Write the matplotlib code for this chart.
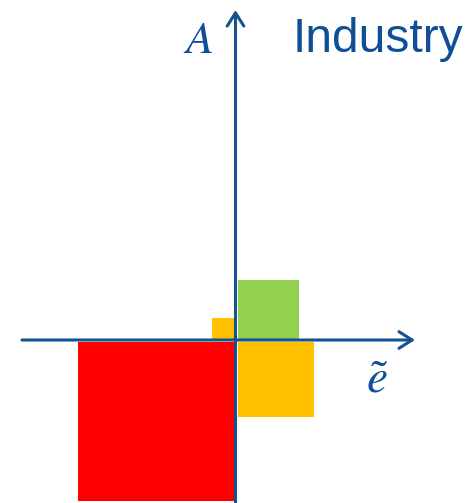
import matplotlib
matplotlib.use("Agg")
import matplotlib.pyplot as plt

# blocks around the origin (axis crossing), one unit = one pixel of the original
BLOCK_NAMES = ["red", "small yellow", "green", "yellow"]
BLOCK_LEFT = [-157.5, -23.5, 2.2, 2.2]
BLOCK_WIDTH = [157.0, 23.5, 61.3, 76.3]
BLOCK_BOTTOM = [-161.0, 0.0, 0.0, -76.7]
BLOCK_HEIGHT = [159.0, 22.3, 60.0, 74.7]
BLOCK_COLORS = ["#FF0000", "#FFC000", "#92D050", "#FFC000"]

TITLE = "Industry"
X_LABEL = r"$\tilde{e}$"
Y_LABEL = r"$A$"

AXIS_BLUE = "#15528F"
TEXT_BLUE = "#0E4F96"

plt.rcParams["mathtext.fontset"] = "stix"

fig = plt.figure(figsize=(4.75, 5.03), dpi=100)
ax = fig.add_axes([0, 0, 1, 1])
ax.set_xlim(-235.5, 239.5)
ax.set_ylim(-163, 340)
ax.axis("off")

ax.bar(BLOCK_LEFT, BLOCK_HEIGHT, width=BLOCK_WIDTH, bottom=BLOCK_BOTTOM,
       align="edge", color=BLOCK_COLORS, linewidth=0, zorder=1)

arrow = dict(arrowstyle="->,head_length=0.95,head_width=0.6", lw=2.2,
             color=AXIS_BLUE, shrinkA=0, shrinkB=0)
ax.annotate("", xy=(179.5, 0), xytext=(-213.5, 0), arrowprops=arrow, zorder=3)
ax.annotate("", xy=(0, 330), xytext=(0, -165), arrowprops=arrow, zorder=3)

ax.text(-22, 300, Y_LABEL, color=TEXT_BLUE, fontsize=33, ha="right", va="center")
ax.text(141.5, -40, X_LABEL, color=TEXT_BLUE, fontsize=34, ha="center", va="center")
ax.text(57, 301, TITLE, color=TEXT_BLUE, fontsize=34.5,
        family="Liberation Sans", ha="left", va="center")

fig.savefig("out.png", dpi=100)
